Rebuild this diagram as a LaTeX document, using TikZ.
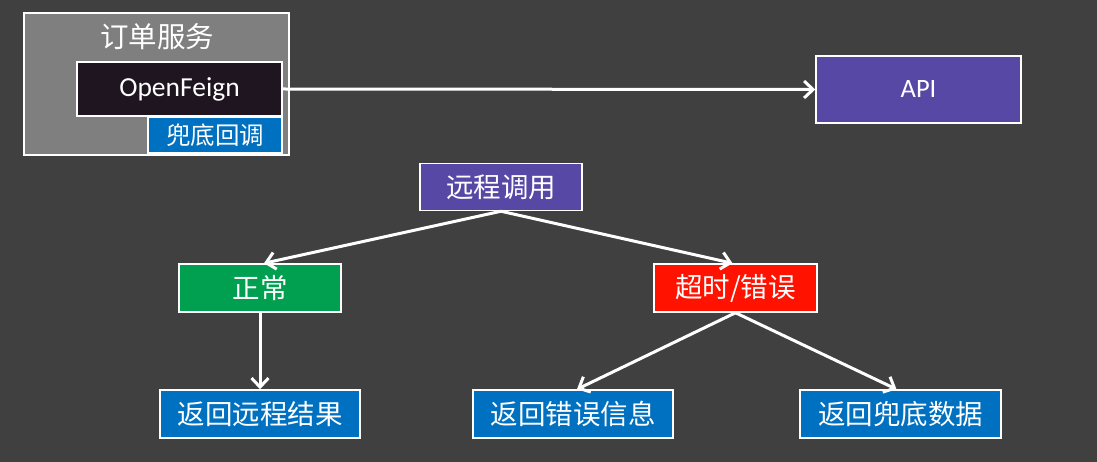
\documentclass[tikz,border=0pt]{standalone}
\usepackage{fontspec}
\setmainfont{Carlito}
\newfontfamily\cjk{Noto Sans CJK SC}
\usetikzlibrary{arrows.meta}
\definecolor{bg}{HTML}{404040}
\definecolor{grayfill}{HTML}{7F7F7F}
\definecolor{darkfill}{HTML}{1E1521}
\definecolor{bluefill}{HTML}{0070C0}
\definecolor{purplefill}{HTML}{5848A6}
\definecolor{greenfill}{HTML}{00A050}
\definecolor{redfill}{HTML}{FF1200}
\tikzset{
  box/.style={draw=white, line width=1.5pt, inner sep=0pt, text=white, font=\cjk\fontsize{27.5}{32}\selectfont},
  conn/.style={draw=white, line width=3pt, -{Straight Barb[length=9pt,width=17pt]}},
}
\begin{document}
\begin{tikzpicture}[x=1pt,y=-1pt]
\fill[bg] (0,0) rectangle (1097,462);
\useasboundingbox (0,0) rectangle (1097,462);
% order service group
\node[box, fill=grayfill, minimum width=265pt, minimum height=142pt] (order) at (156.5,84) {};
\node[text=white, font=\cjk\fontsize{28.5}{32}\selectfont, inner sep=0pt] (ordertitle) at (157,37) {订单服务};
\node[box, fill=darkfill, minimum width=205pt, minimum height=54pt, font=\fontsize{27.5}{32}\selectfont] (feign) at (179.5,89) {OpenFeign};
\node[box, fill=bluefill, minimum width=134pt, minimum height=36pt, font=\cjk\fontsize{24.5}{28}\selectfont] (fallback) at (215,135) {兜底回调};
\node[box, fill=purplefill, minimum width=205pt, minimum height=67pt, font=\fontsize{26.5}{30}\selectfont] (api) at (918.5,89.5) {API};
% decision tree
\node[box, fill=purplefill, minimum width=162pt, minimum height=47pt] (remote) at (501,187) {远程调用};
\node[box, fill=greenfill, minimum width=162pt, minimum height=48pt] (normal) at (260,288) {正常};
\node[box, fill=redfill, minimum width=163pt, minimum height=48pt] (err) at (735.5,288) {超时/错误};
\node[box, fill=bluefill, minimum width=200pt, minimum height=48pt] (retok) at (260,414) {返回远程结果};
\node[box, fill=bluefill, minimum width=200pt, minimum height=48pt] (reterr) at (573,414) {返回错误信息};
\node[box, fill=bluefill, minimum width=201pt, minimum height=48pt] (retfb) at (900.5,414) {返回兜底数据};
% connectors
\draw[conn] (feign.east) -- (api.west);
\draw[conn] (remote.south) -- ([xshift=4pt]normal.north);
\draw[conn] (remote.south) -- ([xshift=-3pt]err.north);
\draw[conn] (normal.south) -- (retok.north);
\draw[conn] (err.south) -- ([xshift=4pt]reterr.north);
\draw[conn] (err.south) -- ([xshift=-4pt]retfb.north);
\end{tikzpicture}
\end{document}
